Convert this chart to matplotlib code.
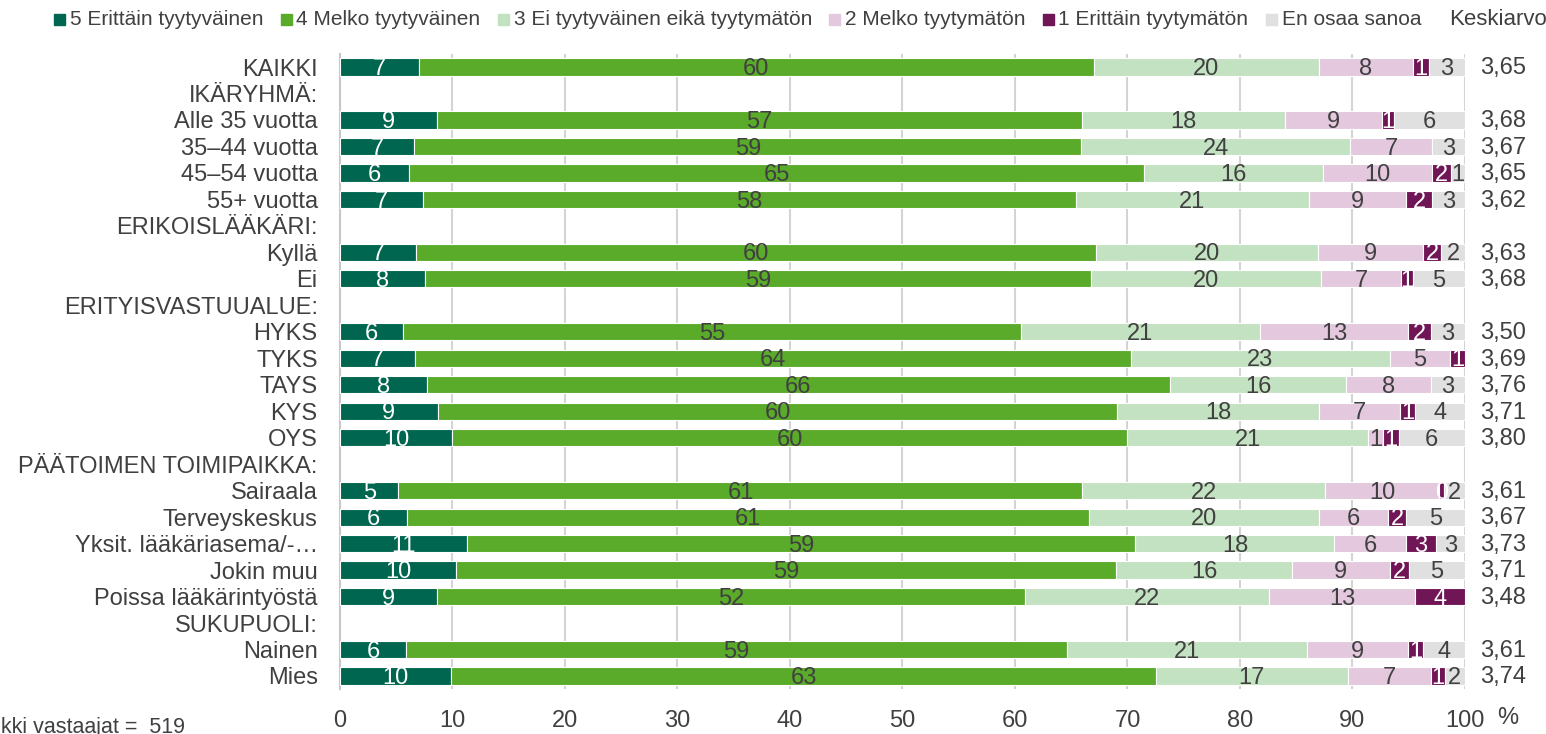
import numpy as np
import matplotlib.pyplot as plt
from matplotlib.patches import Rectangle

plt.rcParams['font.family'] = ['Liberation Sans', 'DejaVu Sans']

# Rows from top to bottom; header rows have no bars (nan)
categories = ["KAIKKI", "IKÄRYHMÄ:", "Alle 35 vuotta", "35–44 vuotta", "45–54 vuotta",
              "55+ vuotta", "ERIKOISLÄÄKÄRI:", "Kyllä", "Ei", "ERITYISVASTUUALUE:",
              "HYKS", "TYKS", "TAYS", "KYS", "OYS", "PÄÄTOIMEN TOIMIPAIKKA:",
              "Sairaala", "Terveyskeskus", "Yksit. lääkäriasema/-…", "Jokin muu",
              "Poissa lääkärintyöstä", "SUKUPUOLI:", "Nainen", "Mies"]
nan = np.nan
s5 = [7.0, nan, 8.6, 6.6, 6.1, 7.4, nan, 6.8, 7.6, nan, 5.6, 6.7, 7.7, 8.7, 10.0, nan,
      5.2, 6.0, 11.3, 10.3, 8.6, nan, 5.9, 9.9]
s4 = [60.0, nan, 57.4, 59.3, 65.4, 58.0, nan, 60.4, 59.2, nan, 54.9, 63.6, 66.1, 60.4, 60.0, nan,
      60.8, 60.6, 59.4, 58.7, 52.3, nan, 58.7, 62.6]
s3 = [20.0, nan, 18.0, 23.9, 15.9, 20.7, nan, 19.7, 20.4, nan, 21.3, 23.0, 15.6, 17.9, 21.4, nan,
      21.6, 20.4, 17.7, 15.6, 21.7, nan, 21.4, 17.1]
s2 = [8.4, nan, 8.6, 7.3, 9.7, 8.7, nan, 9.4, 7.1, nan, 13.1, 5.4, 7.6, 7.2, 1.3, nan,
      10.1, 6.2, 6.4, 8.7, 13.0, nan, 8.9, 7.4]
s1 = [1.4, nan, 1.1, 0.0, 1.7, 2.3, nan, 1.6, 1.1, nan, 2.1, 1.3, 0.0, 1.4, 1.4, nan,
      0.4, 1.6, 2.6, 1.7, 4.4, nan, 1.4, 1.2]
eos = [3.2, nan, 6.3, 2.9, 1.2, 2.9, nan, 2.1, 4.6, nan, 3.0, 0.0, 3.0, 4.4, 5.9, nan,
       1.9, 5.2, 2.6, 5.0, 0.0, nan, 3.7, 1.8]
means = ["3,65", "", "3,68", "3,67", "3,65", "3,62", "", "3,63", "3,68", "",
         "3,50", "3,69", "3,76", "3,71", "3,80", "", "3,61", "3,67", "3,73", "3,71",
         "3,48", "", "3,61", "3,74"]

series_names = ["5 Erittäin tyytyväinen", "4 Melko tyytyväinen",
                "3 Ei tyytyväinen eikä tyytymätön", "2 Melko tyytymätön",
                "1 Erittäin tyytymätön", "En osaa sanoa"]
colors = ["#00664F", "#5AAB2A", "#C3E2C1", "#E4C8DE", "#701656", "#E0E0E0"]
label_colors = ["white", "#404040", "#404040", "#404040", "white", "#404040"]
text_col = "#404040"
fs = 17

W, H = 1546, 734
fig = plt.figure(figsize=(W / 100, H / 100), dpi=100)
ax = fig.add_axes([0.2199, 0.061, 0.7277, 0.8657])

y = np.arange(len(categories))
left = np.zeros(len(categories))
for vals, col, lcol in zip([s5, s4, s3, s2, s1, eos], colors, label_colors):
    v = np.array(vals, dtype=float)
    ok = ~np.isnan(v) & (v > 0)
    ax.barh(y[ok], v[ok], left=left[ok], height=0.65, color=col,
            edgecolor="white", linewidth=0.8, zorder=3)
    for yi, l, w in zip(y[ok], left[ok], v[ok]):
        ax.text(l + w / 2, yi + 0.08, f"{int(w + 0.5)}", ha="center", va="center",
                fontsize=fs, color=lcol, zorder=4)
    left = left + np.nan_to_num(v)

for yi, m in zip(y, means):
    if m:
        ax.text(101.3, yi + 0.05, m, ha="left", va="center", fontsize=fs,
                color=text_col, clip_on=False)

ax.set_xlim(0, 100)
ax.set_ylim(len(categories) - 0.5, -0.5)
ax.set_yticks(y)
ax.set_yticklabels(categories, fontsize=fs, color=text_col)
ax.set_xticks(np.arange(0, 101, 10))
ax.set_xticklabels([str(t) for t in range(0, 101, 10)], fontsize=fs, color=text_col)
ax.tick_params(axis="both", length=0)
ax.tick_params(axis="y", pad=16)
ax.tick_params(axis="x", pad=15)
ax.grid(axis="x", color="#D4D4D4", linewidth=1.5, zorder=0)
for sp in ["top", "right", "bottom"]:
    ax.spines[sp].set_visible(False)
ax.spines["left"].set_color("#C8C8C8")
ax.spines["left"].set_linewidth(1.5)

# "%" sits next to the 100 tick label
fig.text(1508 / W, 1 - 718 / H, "%", ha="center", va="center", fontsize=fs,
         color=text_col)

# legend row laid out by hand: square, text, square, text...
renderer = fig.canvas.get_renderer()
x = 54
ly = 1 - 19.5 / H
sq = 11
for name, col in zip(series_names, colors):
    fig.add_artist(Rectangle((x / W, ly - sq / 2 / H), sq / W, sq / H,
                             transform=fig.transFigure, color=col))
    t = fig.text((x + sq + 5) / W, ly, name, ha="left", va="center", fontsize=15,
                 color=text_col)
    x = t.get_window_extent(renderer).x1 + 17
fig.text(1449 / W, ly, "Keskiarvo", ha="left", va="center", fontsize=16,
         color=text_col)

fig.text(185 / W, 1 - 733 / H, "Kaikki vastaajat =  519", ha="right", va="baseline",
         fontsize=15.5, color=text_col)

fig.savefig("out.png", dpi=100)
